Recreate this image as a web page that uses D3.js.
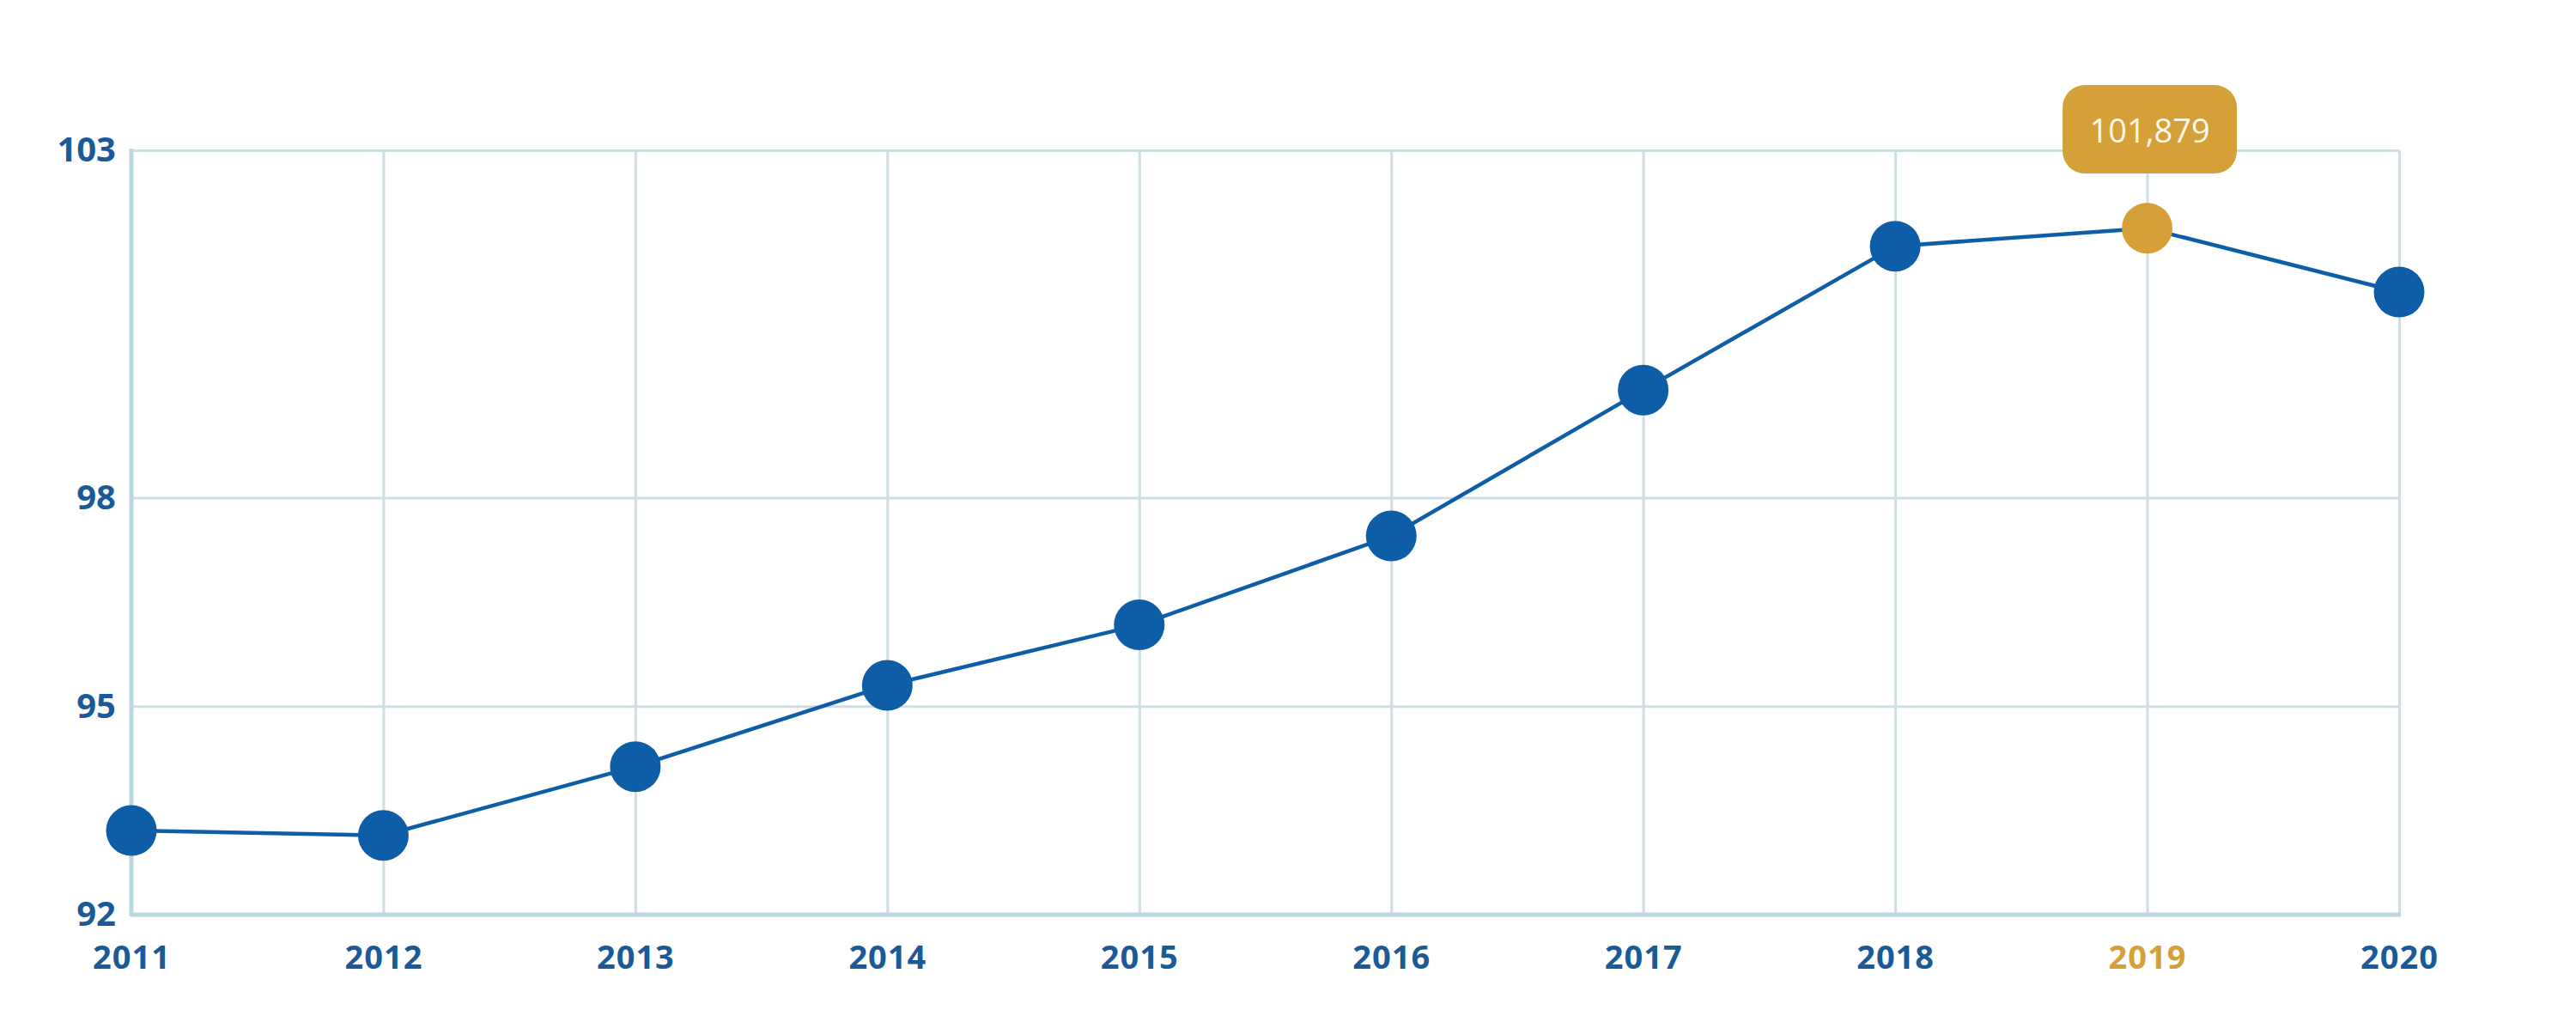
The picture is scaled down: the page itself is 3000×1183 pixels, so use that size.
<!DOCTYPE html>
<html>
<head>
<meta charset="utf-8">
<script src="https://cdn.jsdelivr.net/npm/d3@7"></script>
<style>
  html, body { margin: 0; padding: 0; background: #ffffff; }
  svg { display: block; }
</style>
</head>
<body>
<svg id="chart" width="3000" height="1183"></svg>
<script>
const years = ["2011","2012","2013","2014","2015","2016","2017","2018","2019","2020"];
const values = [93.21, 93.14, 94.13, 95.30, 96.17, 97.45, 99.55, 101.62, 101.879, 100.96];
const yTicks = [92, 95, 98, 103];
const highlightYear = "2019";
const highlightLabel = "101,879";

const W = 3000, H = 1183;
const margin = { left: 153, right: 206, top: 175, bottom: 118 };
const blue = "#0d5ea7";
const gold = "#d4a037";
const labelBlue = "#1a5a97";
const gridColor = "#cddfe5";
const axisColor = "#bad7e2";

const svg = d3.select("#chart");

const x = d3.scalePoint().domain(years).range([margin.left, W - margin.right]);
const y = d3.scaleLinear().domain([92, 103]).range([H - margin.bottom, margin.top]);

// horizontal gridlines via axis
const yGrid = svg.append("g")
  .attr("transform", `translate(${margin.left},0)`)
  .call(d3.axisLeft(y).tickValues(yTicks).tickSize(-(W - margin.right - margin.left)).tickFormat(""));
yGrid.select(".domain").remove();
yGrid.selectAll(".tick line").attr("stroke", gridColor).attr("stroke-width", 3);

// vertical gridlines via axis
const xGrid = svg.append("g")
  .attr("transform", `translate(0,${H - margin.bottom})`)
  .call(d3.axisBottom(x).tickSize(-(H - margin.bottom - margin.top)).tickFormat(""));
xGrid.select(".domain").remove();
xGrid.selectAll(".tick line").attr("stroke", gridColor).attr("stroke-width", 3);

// left & bottom axis lines
svg.append("line")
  .attr("x1", margin.left).attr("x2", margin.left)
  .attr("y1", y(103) - 2).attr("y2", y(92) + 2)
  .attr("stroke", axisColor).attr("stroke-width", 5);
svg.append("line")
  .attr("x1", margin.left).attr("x2", W - margin.right + 2)
  .attr("y1", y(92)).attr("y2", y(92))
  .attr("stroke", axisColor).attr("stroke-width", 5);

// y tick labels via axis
const yAxis = svg.append("g")
  .attr("transform", `translate(${margin.left},0)`)
  .call(d3.axisLeft(y).tickValues(yTicks).tickSize(0).tickPadding(18));
yAxis.select(".domain").remove();
yAxis.selectAll("text")
  .attr("fill", labelBlue)
  .style("font-family", "'Open Sans', sans-serif")
  .style("font-weight", "700")
  .style("font-size", "40px");

// x tick labels via axis
const xAxis = svg.append("g")
  .attr("transform", `translate(0,${H - margin.bottom})`)
  .call(d3.axisBottom(x).tickSize(0).tickPadding(36));
xAxis.select(".domain").remove();
xAxis.selectAll("text")
  .attr("fill", d => d === highlightYear ? gold : labelBlue)
  .style("font-family", "'Open Sans', sans-serif")
  .style("font-weight", "700")
  .style("font-size", "38px")
  .style("letter-spacing", "1px");

const data = years.map((yr, i) => ({ year: yr, value: values[i] }));

// line
svg.append("path")
  .datum(data)
  .attr("fill", "none")
  .attr("stroke", blue)
  .attr("stroke-width", 4.5)
  .attr("d", d3.line().x(d => x(d.year)).y(d => y(d.value)));

// points
svg.selectAll("circle.pt")
  .data(data)
  .join("circle")
  .attr("class", "pt")
  .attr("cx", d => x(d.year))
  .attr("cy", d => y(d.value))
  .attr("r", 29.5)
  .attr("fill", d => d.year === highlightYear ? gold : blue);

// tooltip
const hx = x(highlightYear);
const boxW = 203, boxH = 103;
const tip = svg.append("g");
tip.append("rect")
  .attr("x", hx - boxW / 2 + 3)
  .attr("y", y(103) - 76)
  .attr("width", boxW)
  .attr("height", boxH)
  .attr("rx", 26)
  .attr("fill", gold);
tip.append("text")
  .attr("x", hx + 3)
  .attr("y", y(103) - 76 + boxH / 2)
  .attr("text-anchor", "middle")
  .attr("dominant-baseline", "central")
  .attr("fill", "#fdf8ea")
  .style("font-family", "'Open Sans', sans-serif")
  .style("font-weight", "400")
  .style("font-size", "38px")
  .text(highlightLabel);
</script>
</body>
</html>
